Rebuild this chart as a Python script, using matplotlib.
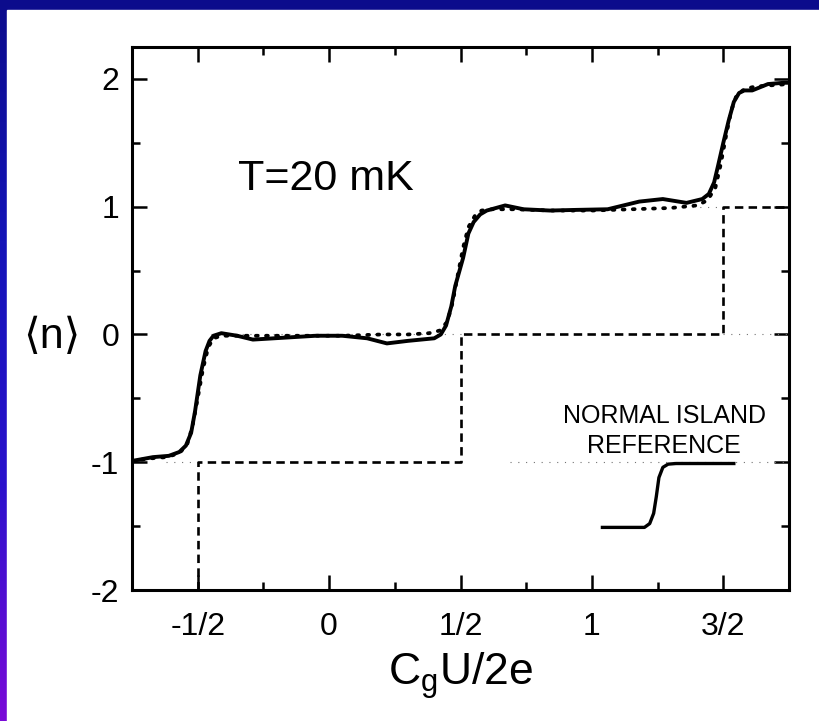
import numpy as np
import matplotlib.pyplot as plt
from matplotlib.patches import Rectangle
from matplotlib.colors import LinearSegmentedColormap
from matplotlib.ticker import MultipleLocator

plt.rcParams['font.family'] = ['Liberation Sans', 'DejaVu Sans']
plt.rcParams['mathtext.fontset'] = 'custom'
plt.rcParams['mathtext.rm'] = 'Liberation Sans'
plt.rcParams['axes.unicode_minus'] = False

# measured <n> (solid)
meas_x = [-0.75, -0.67, -0.61, -0.57, -0.545, -0.525, -0.51, -0.49, -0.47, -0.455,
          -0.44, -0.41, -0.35, -0.29, -0.21, -0.05, 0.05, 0.145, 0.22, 0.30,
          0.40, 0.425, 0.445, 0.465, 0.48, 0.51, 0.53, 0.55, 0.575, 0.60,
          0.67, 0.74, 0.84, 0.94, 1.06, 1.18, 1.27, 1.36, 1.42, 1.445,
          1.465, 1.48, 1.50, 1.52, 1.54, 1.56, 1.58, 1.61, 1.67, 1.73, 1.75]
meas_y = [-0.99, -0.96, -0.95, -0.92, -0.87, -0.77, -0.60, -0.32, -0.13, -0.05,
          -0.01, 0.01, -0.01, -0.04, -0.03, -0.01, -0.01, -0.03, -0.07, -0.05,
          -0.03, 0.0, 0.07, 0.22, 0.38, 0.60, 0.79, 0.88, 0.94, 0.97,
          1.01, 0.98, 0.97, 0.975, 0.98, 1.04, 1.06, 1.03, 1.06, 1.10,
          1.19, 1.32, 1.50, 1.67, 1.82, 1.89, 1.91, 1.91, 1.96, 1.97, 1.97]

# theory (dotted)
theo_x = [-0.75, -0.68, -0.62, -0.57, -0.54, -0.52, -0.50, -0.48, -0.46, -0.44,
          -0.41, -0.36, -0.25, -0.1, 0.05, 0.2, 0.3, 0.38, 0.42, 0.45,
          0.47, 0.49, 0.51, 0.53, 0.555, 0.58, 0.62, 0.7, 0.85, 1.0,
          1.15, 1.3, 1.4, 1.44, 1.47, 1.49, 1.51, 1.53, 1.55, 1.58,
          1.62, 1.68, 1.75]
theo_y = [-0.99, -0.97, -0.96, -0.93, -0.86, -0.72, -0.50, -0.27, -0.10, -0.03,
          -0.01, -0.01, -0.01, -0.01, -0.01, 0.0, 0.0, 0.01, 0.03, 0.10,
          0.25, 0.47, 0.68, 0.84, 0.93, 0.97, 0.98, 0.98, 0.97, 0.97,
          0.98, 0.99, 1.01, 1.05, 1.15, 1.33, 1.55, 1.75, 1.87, 1.92,
          1.94, 1.95, 1.96]

# classical staircase (dashed)
step_x = [-0.5, -0.5, 0.5, 0.5, 1.5, 1.5, 1.75]
step_y = [-2, -1, -1, 0, 0, 1, 1]

# faint level guides: (level, x start, x end)
guides = [(-1, -0.62, -0.5), (-1, 0.69, 1.75), (0, -0.45, 0.5),
          (0, 1.5, 1.75), (1, 1.38, 1.5)]

# normal island reference trace
ref_x = [1.04, 1.20, 1.22, 1.235, 1.245, 1.255, 1.27, 1.29, 1.32, 1.54]
ref_y = [-1.51, -1.51, -1.48, -1.40, -1.27, -1.12, -1.04, -1.015, -1.01, -1.01]

xtick_pos = [-0.5, 0, 0.5, 1, 1.5]
xtick_lab = ['-1/2', '0', '1/2', '1', '3/2']
ytick_pos = [-2, -1, 0, 1, 2]

fig = plt.figure(figsize=(8.2, 7.21), dpi=100)

# slide background
bg = fig.add_axes([0, 0, 1, 1])
yy, xx = np.mgrid[0:721, 0:820]
d = np.sqrt(xx**2 + (721 - yy)**2)
f = np.clip(1 - d / 720, 0, 1)
cmap = LinearSegmentedColormap.from_list('slide', ['#0c0c8c', '#1414b8', '#2a12cc', '#7a0ad8'])
bg.imshow(f, cmap=cmap, extent=(0, 820, 721, 0), aspect='auto', vmin=0, vmax=1)
bg.add_patch(Rectangle((7, 10), 820, 721, color='white'))
bg.set_xlim(0, 820)
bg.set_ylim(721, 0)
bg.axis('off')

ax = fig.add_axes([132/820, 131/721, 657/820, 543/721])
for lv, x0, x1 in guides:
    ax.plot([x0, x1], [lv, lv], color='0.45', lw=0.8, ls=(0, (1, 6)))
ax.plot(step_x, step_y, color='black', lw=1.9, ls=(0, (3.2, 2.0)))
ax.plot(theo_x, theo_y, color='black', lw=2.7, ls=(0, (0.5, 2.2)), dash_capstyle='round')
ax.plot(meas_x, meas_y, color='black', lw=2.8, solid_capstyle='round', solid_joinstyle='round')
ax.plot(ref_x, ref_y, color='black', lw=2.4, solid_joinstyle='round')

ax.text(-0.345, 1.22, 'T=20 mK', fontsize=31, va='center', ha='left')
ax.text(1.275, -0.64, 'NORMAL ISLAND', fontsize=18, ha='center', va='center')
ax.text(1.275, -0.875, 'REFERENCE', fontsize=18, ha='center', va='center')

ax.set_xlim(-0.75, 1.75)
ax.set_ylim(-2, 2.25)
ax.set_xticks(xtick_pos)
ax.set_xticklabels(xtick_lab)
ax.set_yticks(ytick_pos)
ax.xaxis.set_minor_locator(MultipleLocator(0.25))
ax.yaxis.set_minor_locator(MultipleLocator(0.5))
ax.tick_params(which='both', direction='in', top=True, right=True, width=1.8, labelsize=23)
ax.tick_params(which='major', length=11)
ax.tick_params(which='minor', length=6)
ax.tick_params(axis='x', pad=16)
ax.tick_params(axis='y', pad=9)
for s in ax.spines.values():
    s.set_linewidth(2.2)

ax.set_xlabel(r'C$_\mathregular{g}$U/2e', fontsize=32, labelpad=6)
fig.text(52/820, 1 - 337/721, '⟨n⟩', fontsize=31, ha='center', va='center')

fig.savefig('out.png', dpi=100)
